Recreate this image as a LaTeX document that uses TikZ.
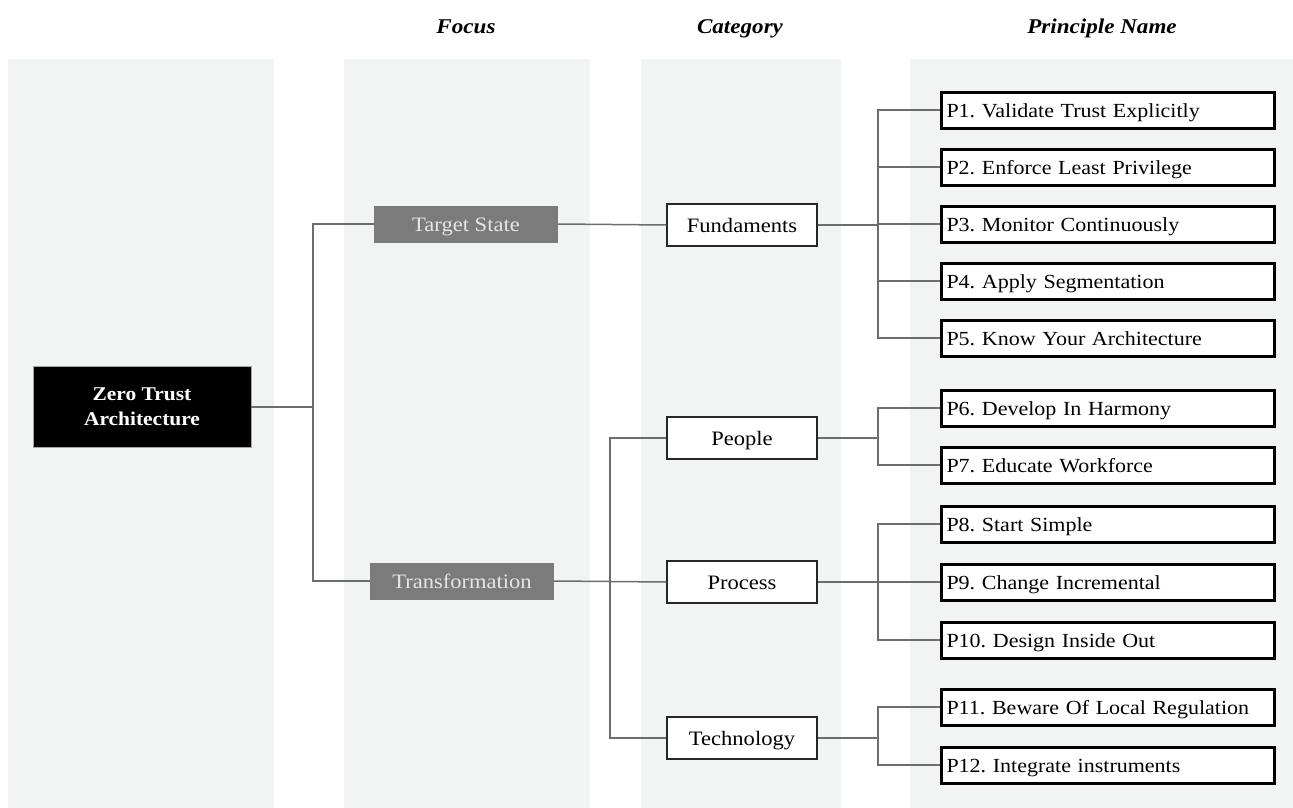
\documentclass[tikz,border=0pt]{standalone}
\usepackage{fontspec}
\setmainfont{Liberation Serif}[FakeStretch=1.1]
\begin{document}
\frenchspacing
\begin{tikzpicture}[x=1pt,y=-1pt,
  colbg/.style={fill=bgcol,draw=none},
  header/.style={anchor=base,font=\fontsize{21}{23}\selectfont\bfseries\itshape},
  rootbox/.style={fill=black,draw=gray!70,line width=0.8pt,text=white,
    minimum width=218,minimum height=81,align=center,
    font=\fontsize{19.5}{25}\selectfont\bfseries},
  focusbox/.style={fill=focusgray,draw=none,text=white!90!black,
    minimum width=184,minimum height=37,inner sep=0pt,
    text height=16pt,text depth=2pt,
    font=\fontsize{20.5}{22}\selectfont},
  catbox/.style={fill=white,draw=black!85,line width=1.4pt,
    minimum width=150,minimum height=42,inner sep=0pt,
    text height=16pt,text depth=2pt,
    font=\fontsize{20.5}{22}\selectfont},
  prinbox/.style={fill=white,draw=black,line width=3pt,
    text width=323,minimum height=36,inner xsep=5pt,inner ysep=0pt,align=left,
    text height=16pt,text depth=2pt,
    font=\fontsize{20}{22}\selectfont},
  link/.style={draw=linkgray,line width=1.5pt}
]
\definecolor{bgcol}{HTML}{F2F3F3}
\definecolor{focusgray}{HTML}{7A7B7A}
\definecolor{linkgray}{HTML}{6C6D6F}

\useasboundingbox (0,0) rectangle (1293,808);

% column backgrounds
\fill[colbg] (8,59) rectangle (274,808);
\fill[colbg] (344,59) rectangle (590,808);
\fill[colbg] (641,59) rectangle (841,808);
\fill[colbg] (910,59) rectangle (1293,808);

% column headers
\node[header] (hfocus) at (466,34) {Focus};
\node[header] (hcat) at (740,34) {Category};
\node[header] (hprin) at (1102,34) {Principle Name};

% root
\node[rootbox] (root) at (142,407) {Zero Trust\\Architecture};

% focus level
\node[focusbox] (ts) at (466,224) {Target State};
\node[focusbox] (tf) at (462,581) {Transformation};

% categories
\node[catbox] (fund) at (742,225) {Fundaments};
\node[catbox] (ppl) at (742,438) {People};
\node[catbox] (proc) at (742,582) {Process};
\node[catbox] (tech) at (742,738) {Technology};

% principles
\node[prinbox] (p1) at (1108,110) {P1. Validate Trust Explicitly};
\node[prinbox] (p2) at (1108,167) {P2. Enforce Least Privilege};
\node[prinbox] (p3) at (1108,224) {P3. Monitor Continuously};
\node[prinbox] (p4) at (1108,281) {P4. Apply Segmentation};
\node[prinbox] (p5) at (1108,338) {P5. Know Your Architecture};
\node[prinbox] (p6) at (1108,408) {P6. Develop In Harmony};
\node[prinbox] (p7) at (1108,465) {P7. Educate Workforce};
\node[prinbox] (p8) at (1108,524) {P8. Start Simple};
\node[prinbox] (p9) at (1108,582) {P9. Change Incremental};
\node[prinbox] (p10) at (1108,640) {P10. Design Inside Out};
\node[prinbox] (p11) at (1108,707) {P11. Beware Of Local Regulation};
\node[prinbox] (p12) at (1108,765) {P12. Integrate instruments};

% junction points
\coordinate (jroot) at (313,407);
\coordinate (jtf) at (610,582);
\coordinate (jfund) at (878,224);
\coordinate (jppl) at (878,438);
\coordinate (jproc) at (878,582);
\coordinate (jtech) at (878,738);

% root to focus
\draw[link] (root.east) -- (jroot);
\draw[link] (ts.west) -| (jroot) |- (tf.west);

% focus to categories
\draw[link] (ts.east) -- (fund.west);
\draw[link] (tf.east) -- (proc.west);
\draw[link] (ppl.west) -| (jtf) |- (tech.west);

% categories to principles
\draw[link] (fund.east) -- (fund.east -| jfund);
\draw[link] (p1.west) -| (jfund) |- (p5.west);
\draw[link] (p2.west) -- (p2.west -| jfund);
\draw[link] (p3.west) -- (jfund);
\draw[link] (p4.west) -- (p4.west -| jfund);

\draw[link] (ppl.east) -- (jppl);
\draw[link] (p6.west) -| (jppl) |- (p7.west);

\draw[link] (proc.east) -- (jproc);
\draw[link] (p8.west) -| (jproc) |- (p10.west);
\draw[link] (p9.west) -- (jproc);

\draw[link] (tech.east) -- (jtech);
\draw[link] (p11.west) -| (jtech) |- (p12.west);
\end{tikzpicture}
\end{document}
